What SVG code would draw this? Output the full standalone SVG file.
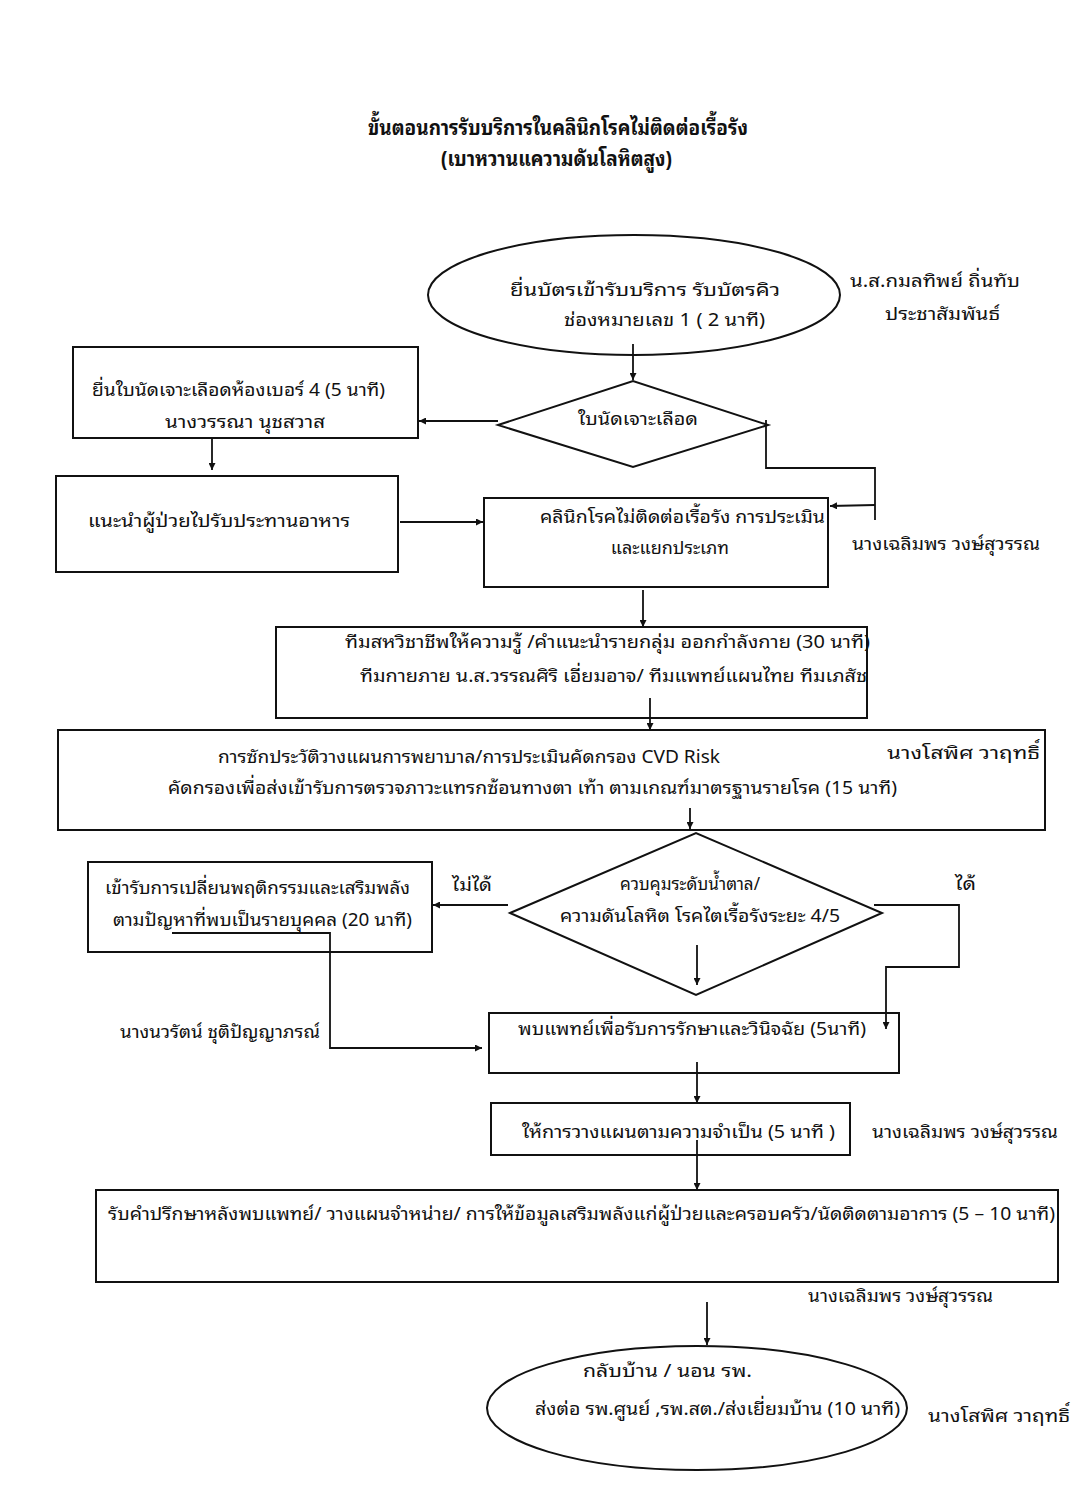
<svg xmlns="http://www.w3.org/2000/svg" width="1086" height="1506" viewBox="0 0 1086 1506">
<style>
text{font-family:"Noto Sans Thai Looped","Noto Serif Thai","Noto Sans Thai","Noto Sans","DejaVu Sans",sans-serif;font-size:18px;fill:#111}
.t{font-weight:bold;font-size:21px}
.box{fill:none;stroke:#111;stroke-width:2}
.ln{fill:none;stroke:#111;stroke-width:1.8}
</style>
<defs>
<marker id="ah" viewBox="0 0 10 10" refX="10" refY="5" markerWidth="7" markerHeight="7" markerUnits="userSpaceOnUse" orient="auto"><path d="M0,0 L10,5 L0,10 z" fill="#111"/></marker>
</defs>
<rect width="1086" height="1506" fill="#fff"/>
<g id="title">
<text class="t" x="368" y="135" textLength="380" lengthAdjust="spacingAndGlyphs">ขั้นตอนการรับบริการในคลินิกโรคไม่ติดต่อเรื้อรัง</text>
<text class="t" x="441" y="166" textLength="231" lengthAdjust="spacingAndGlyphs">(เบาหวานแความดันโลหิตสูง)</text>
</g>
<g id="start">
<ellipse class="box" cx="634" cy="295" rx="206" ry="60"/>
<text x="510" y="296" textLength="270" lengthAdjust="spacingAndGlyphs">ยื่นบัตรเข้ารับบริการ รับบัตรคิว</text>
<text x="564" y="326" textLength="201" lengthAdjust="spacingAndGlyphs">ช่องหมายเลข 1 ( 2 นาที)</text>
</g>
<g id="start-staff">
<text x="850" y="287" textLength="170" lengthAdjust="spacingAndGlyphs">น.ส.กมลทิพย์  ถิ่นทับ</text>
<text x="885" y="320" textLength="115" lengthAdjust="spacingAndGlyphs">ประชาสัมพันธ์</text>
</g>
<g id="d1">
<polygon class="box" points="498,425 633,381 768,425 633,467"/>
<text x="578" y="425" textLength="120" lengthAdjust="spacingAndGlyphs">ใบนัดเจาะเลือด</text>
</g>
<g id="b1">
<rect class="box" x="73" y="347" width="345" height="91"/>
<text x="92" y="396" textLength="293" lengthAdjust="spacingAndGlyphs">ยื่นใบนัดเจาะเลือดห้องเบอร์ 4 (5 นาที)</text>
<text x="165" y="428" textLength="160" lengthAdjust="spacingAndGlyphs">นางวรรณา  นุชสวาส</text>
</g>
<g id="b2">
<rect class="box" x="56" y="476" width="342" height="96"/>
<text x="88" y="527" textLength="262" lengthAdjust="spacingAndGlyphs">แนะนำผู้ป่วยไปรับประทานอาหาร</text>
</g>
<g id="clinic">
<rect class="box" x="484" y="498" width="344" height="89"/>
<text x="540" y="523" textLength="285" lengthAdjust="spacingAndGlyphs">คลินิกโรคไม่ติดต่อเรื้อรัง การประเมิน</text>
<text x="670" y="554" text-anchor="middle">และแยกประเภท</text>
</g>
<g id="clinic-staff">
<text x="852" y="550" textLength="188" lengthAdjust="spacingAndGlyphs">นางเฉลิมพร วงษ์สุวรรณ</text>
</g>
<g id="team">
<rect class="box" x="276" y="627" width="591" height="91"/>
<text x="345" y="648" textLength="525" lengthAdjust="spacingAndGlyphs">ทีมสหวิชาชีพให้ความรู้ /คำแนะนำรายกลุ่ม ออกกำลังกาย (30 นาที)</text>
<text x="360" y="682" textLength="507" lengthAdjust="spacingAndGlyphs">ทีมกายภาย   น.ส.วรรณศิริ เอี่ยมอาจ/ ทีมแพทย์แผนไทย  ทีมเภสัช</text>
</g>
<g id="cvd">
<rect class="box" x="58" y="730" width="987" height="100"/>
<text x="218" y="763" textLength="502" lengthAdjust="spacingAndGlyphs">การซักประวัติวางแผนการพยาบาล/การประเมินคัดกรอง CVD Risk</text>
<text x="887" y="759" textLength="153" lengthAdjust="spacingAndGlyphs">นางโสพิศ  วาฤทธิ์</text>
<text x="168" y="794" textLength="729" lengthAdjust="spacingAndGlyphs">คัดกรองเพื่อส่งเข้ารับการตรวจภาวะแทรกซ้อนทางตา เท้า ตามเกณฑ์มาตรฐานรายโรค (15 นาที)</text>
</g>
<g id="d2">
<polygon class="box" points="510,913 696,833 882,913 696,995"/>
<text x="620" y="890" textLength="140" lengthAdjust="spacingAndGlyphs">ควบคุมระดับน้ำตาล/</text>
<text x="560" y="922" textLength="280" lengthAdjust="spacingAndGlyphs">ความดันโลหิต โรคไตเรื้อรังระยะ 4/5</text>
</g>
<g id="b3">
<rect class="box" x="88" y="862" width="344" height="90"/>
<text x="105" y="894" textLength="305" lengthAdjust="spacingAndGlyphs">เข้ารับการเปลี่ยนพฤติกรรมและเสริมพลัง</text>
<text x="113" y="926" textLength="299" lengthAdjust="spacingAndGlyphs">ตามปัญหาที่พบเป็นรายบุคคล (20 นาที)</text>
</g>
<g id="b3-staff">
<text x="120" y="1038" textLength="200" lengthAdjust="spacingAndGlyphs">นางนวรัตน์ ชุติปัญญาภรณ์</text>
</g>
<g id="doctor">
<rect class="box" x="489" y="1013" width="410" height="60"/>
<text x="518" y="1035" textLength="348" lengthAdjust="spacingAndGlyphs">พบแพทย์เพื่อรับการรักษาและวินิจฉัย (5นาที)</text>
</g>
<g id="plan">
<rect class="box" x="491" y="1103" width="359" height="52"/>
<text x="522" y="1138" textLength="313" lengthAdjust="spacingAndGlyphs">ให้การวางแผนตามความจำเป็น (5 นาที )</text>
<text x="872" y="1138" textLength="186" lengthAdjust="spacingAndGlyphs">นางเฉลิมพร วงษ์สุวรรณ</text>
</g>
<g id="consult">
<rect class="box" x="96" y="1190" width="962" height="92"/>
<text x="108" y="1220" textLength="947" lengthAdjust="spacingAndGlyphs">รับคำปรึกษาหลังพบแพทย์/ วางแผนจำหน่าย/ การให้ข้อมูลเสริมพลังแก่ผู้ป่วยและครอบครัว/นัดติดตามอาการ (5 – 10 นาที)</text>
<text x="808" y="1302" textLength="185" lengthAdjust="spacingAndGlyphs">นางเฉลิมพร วงษ์สุวรรณ</text>
</g>
<g id="end">
<ellipse class="box" cx="697" cy="1408" rx="210" ry="62"/>
<text x="583" y="1377" textLength="169" lengthAdjust="spacingAndGlyphs">กลับบ้าน / นอน รพ.</text>
<text x="535" y="1415" textLength="365" lengthAdjust="spacingAndGlyphs">ส่งต่อ รพ.ศูนย์ ,รพ.สต./ส่งเยี่ยมบ้าน (10 นาที)</text>
<text x="928" y="1422" textLength="142" lengthAdjust="spacingAndGlyphs">นางโสพิศ  วาฤทธิ์</text>
</g>
<g id="connectors">
<line class="ln" x1="633" y1="344" x2="633" y2="380" marker-end="url(#ah)"/>
<line class="ln" x1="498" y1="421" x2="419" y2="421" marker-end="url(#ah)"/>
<line class="ln" x1="212" y1="438" x2="212" y2="470" marker-end="url(#ah)"/>
<line class="ln" x1="400" y1="522" x2="483" y2="522" marker-end="url(#ah)"/>
<polyline class="ln" points="766,420 766,468 875,468 875,520"/>
<line class="ln" x1="875" y1="505" x2="830" y2="506" marker-end="url(#ah)"/>
<line class="ln" x1="643" y1="590" x2="643" y2="627" marker-end="url(#ah)"/>
<line class="ln" x1="650" y1="698" x2="650" y2="730" marker-end="url(#ah)"/>
<line class="ln" x1="690" y1="808" x2="690" y2="829" marker-end="url(#ah)"/>
<line class="ln" x1="508" y1="905" x2="433" y2="905" marker-end="url(#ah)"/>
<text x="452" y="891" textLength="40" lengthAdjust="spacingAndGlyphs">ไม่ได้</text>
<polyline class="ln" points="874,905 959,905 959,967 886,967 886,1029" marker-end="url(#ah)"/>
<text x="955" y="890" textLength="21" lengthAdjust="spacingAndGlyphs">ได้</text>
<line class="ln" x1="697" y1="945" x2="697" y2="985" marker-end="url(#ah)"/>
<polyline class="ln" points="172,933 330,933 330,1048 482,1048" marker-end="url(#ah)"/>
<line class="ln" x1="697" y1="1062" x2="697" y2="1103" marker-end="url(#ah)"/>
<line class="ln" x1="697" y1="1140" x2="697" y2="1190" marker-end="url(#ah)"/>
<line class="ln" x1="707" y1="1302" x2="707" y2="1345" marker-end="url(#ah)"/>
</g>
</svg>
